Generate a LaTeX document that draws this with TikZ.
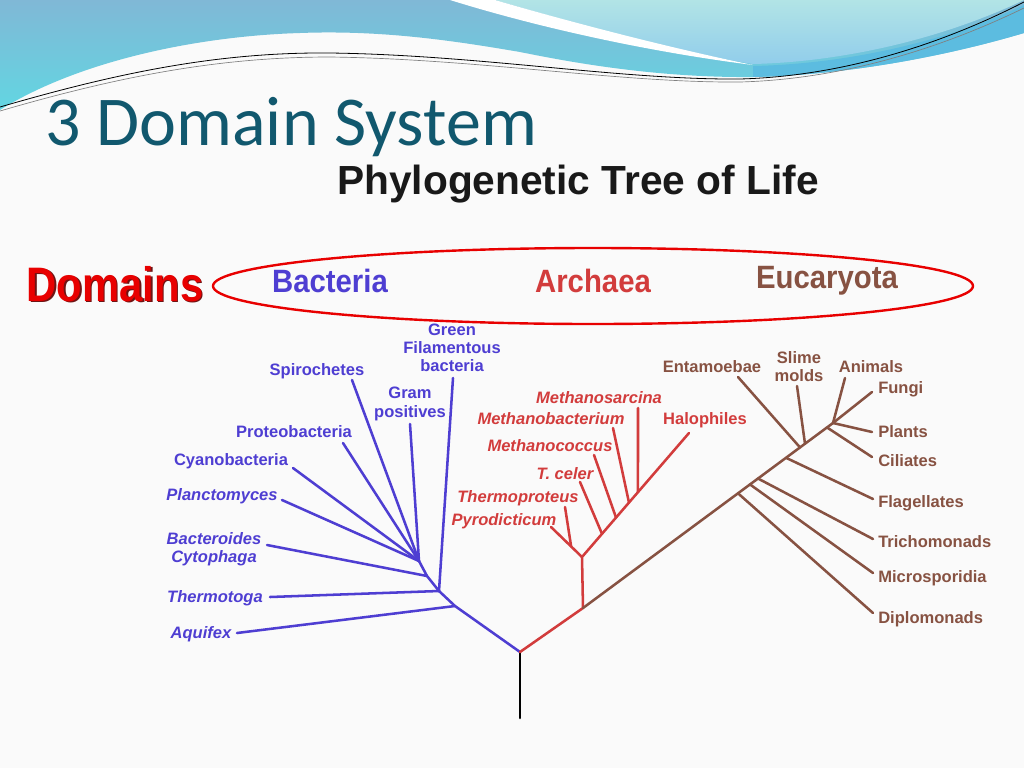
\documentclass[tikz,border=0pt]{standalone}
\usepackage{fontspec}
\setmainfont{Liberation Sans}
\newfontfamily\hdfont{Carlito}
\usepackage{graphicx}
\usetikzlibrary{calc}
\definecolor{bgc}{RGB}{250,250,250}
\definecolor{waveA}{RGB}{128,184,214}
\definecolor{waveB}{RGB}{98,214,226}
\definecolor{aquaA}{RGB}{178,228,230}
\definecolor{aquaB}{RGB}{145,205,235}
\definecolor{band}{RGB}{92,188,224}
\definecolor{thin}{RGB}{40,140,150}
\definecolor{hdc}{RGB}{17,88,110}
\definecolor{bac}{RGB}{78,62,210}
\definecolor{arc}{RGB}{210,60,60}
\definecolor{euk}{RGB}{135,82,66}
\definecolor{dred}{RGB}{232,0,0}
\definecolor{shd}{RGB}{110,20,20}
\begin{document}
\begin{tikzpicture}[x=0.75pt,y=-0.75pt,line cap=round,line join=round,
  bl/.style={draw=bac,line width=1.9pt},
  ar/.style={draw=arc,line width=1.9pt},
  eu/.style={draw=euk,line width=1.9pt},
  lab/.style={font=\bfseries\fontsize{12.4}{14}\selectfont,inner sep=0pt,text height=8.9pt,text depth=0pt},
  ilab/.style={lab,font=\bfseries\itshape\fontsize{12.4}{14}\selectfont},
  mlab/.style={font=\bfseries\fontsize{12.4}{13.6}\selectfont,inner sep=0pt,align=center},
  imlab/.style={font=\bfseries\itshape\fontsize{12.4}{13.6}\selectfont,inner sep=0pt,align=center},
  dom/.style={font=\bfseries\fontsize{22}{24}\selectfont,inner sep=0pt}]
\useasboundingbox (0,0) rectangle (1024,768);
\fill[bgc] (0,0) rectangle (1024,768);
% header waves
\shade[top color=waveA,bottom color=waveB] (0,0) -- (1024,0) -- (1024,33)
  .. controls (950,55) and (850,75) .. (753,77)
  .. controls (650,78) and (560,60) .. (520,52)
  .. controls (450,40) and (380,30) .. (300,33)
  .. controls (200,36) and (80,60) .. (0,110) -- cycle;
\fill[band] (753,66) .. controls (850,64) and (950,40) .. (1024,5) -- (1024,33)
  .. controls (950,55) and (850,75) .. (753,77) -- cycle;
\shade[top color=aquaA,bottom color=aquaB] (495,0) .. controls (580,25) and (680,52) .. (753,64)
  .. controls (840,62) and (940,40) .. (1024,0) -- cycle;
\fill[white] (450,0) .. controls (540,28) and (650,52) .. (753,65)
  .. controls (670,48) and (570,22) .. (495,0) -- cycle;
\draw[thin,line width=0.6pt] (0,107) .. controls (120,72) and (220,52) .. (330,53)
  .. controls (480,55) and (620,80) .. (740,79) .. controls (850,76) and (950,40) .. (1024,2);
\draw[gray,line width=0.5pt] (0,111) .. controls (120,76) and (220,57) .. (330,57)
  .. controls (480,59) and (620,83) .. (740,82) .. controls (850,79) and (950,44) .. (1024,8);
% titles
\node[anchor=base west,inner sep=0pt,text=hdc,font=\hdfont\fontsize{52.5}{56}\selectfont] (hd) at (45,145) {3 Domain System};
\node[inner sep=0pt,text=black!90,font=\bfseries\fontsize{30.5}{32}\selectfont] (tt) at (578,184) {Phylogenetic Tree of Life};
\node[inner sep=0pt,text=shd,font=\bfseries\fontsize{33}{36}\selectfont] at (116.5,285.5) {\scalebox{0.95}[1.1]{Domains}};
\node[inner sep=0pt,text=dred,font=\bfseries\fontsize{33}{36}\selectfont] (dm) at (115,284) {\scalebox{0.95}[1.1]{Domains}};
\draw[dred,line width=1.8pt] (593,286) ellipse [x radius=380,y radius=38];
\node[dom,text=bac] (nb) at (330,281) {\scalebox{1}[1.1]{Bacteria}};
\node[dom,text=arc] (na) at (593,281) {\scalebox{1}[1.1]{Archaea}};
\node[dom,text=euk] (ne) at (827,281) {\scalebox{1}[1.1]{Eucaryota}};
% tree coordinates
\coordinate (R0) at (520,718); \coordinate (R) at (520,652);
\coordinate (B1) at (455,606); \coordinate (B2) at (439,591);
\coordinate (B3) at (427,576); \coordinate (B4) at (419,561);
\coordinate (aqE) at (237,633); \coordinate (thE) at (270,597);
\coordinate (gfE) at (453,378); \coordinate (bcE) at (267,545);
\coordinate (plE) at (282,500); \coordinate (cyE) at (293,468);
\coordinate (prE) at (343,443); \coordinate (spE) at (352,380);
\coordinate (gpE) at (410,424);
\coordinate (A0) at (583,608); \coordinate (A1) at (582,557);
\coordinate (pyE) at (551,527); \coordinate (tpE) at (565,507);
\coordinate (haE) at (689,433);
\coordinate (tcE) at (580,482); \coordinate (mcE) at (594,455);
\coordinate (mbE) at (613,428); \coordinate (msE) at (638,408);
\coordinate (E9) at (833,423);
\coordinate (dpE) at (873,613); \coordinate (miE) at (873,573);
\coordinate (trE) at (873,539); \coordinate (flE) at (873,499);
\coordinate (enE) at (738,377); \coordinate (smE) at (797,386);
\coordinate (ciE) at (872,457); \coordinate (ptE) at (872,432);
\coordinate (fuE) at (872,392); \coordinate (anE) at (845,378);
% root
\draw[black,line width=1.9pt] (R0) -- (R);
% bacteria
\draw[bl] (R) -- (B1) -- (B2) -- (B3) -- (B4);
\draw[bl] (B1) -- (aqE);
\draw[bl] (B2) -- (thE);
\draw[bl] (B2) -- (gfE);
\draw[bl] (B3) -- (bcE);
\draw[bl] (B4) -- (plE);
\draw[bl] (B4) -- (cyE);
\draw[bl] (B4) -- (prE);
\draw[bl] (B4) -- (spE);
\draw[bl] (B4) -- (gpE);
% archaea
\draw[ar] (R) -- (A0) -- (A1) -- (haE);
\draw[ar] (A1) -- (pyE);
\draw[ar] ($(pyE)!0.65!(A1)$) -- (tpE);
\draw[ar] ($(A1)!0.187!(haE)$) -- (tcE);
\draw[ar] ($(A1)!0.318!(haE)$) -- (mcE);
\draw[ar] ($(A1)!0.439!(haE)$) -- (mbE);
\draw[ar] ($(A1)!0.523!(haE)$) -- (msE);
% eucarya
\draw[eu] (A0) -- (E9);
\draw[eu] ($(A0)!0.62!(E9)$) -- (dpE);
\draw[eu] ($(A0)!0.668!(E9)$) -- (miE);
\draw[eu] ($(A0)!0.70!(E9)$) -- (trE);
\draw[eu] ($(A0)!0.812!(E9)$) -- (flE);
\draw[eu] ($(A0)!0.868!(E9)$) -- (enE);
\draw[eu] ($(A0)!0.888!(E9)$) -- (smE);
\draw[eu] ($(A0)!0.976!(E9)$) -- (ciE);
\draw[eu] (E9) -- (ptE);
\draw[eu] (E9) -- (fuE);
\draw[eu] (E9) -- (anE);
% bacteria labels
\node[lab,text=bac] (sp) at (317,370) {Spirochetes};
\node[mlab,text=bac] (gf) at (452,348) {Green\\Filamentous\\bacteria};
\node[mlab,text=bac] (gp) at (410,404) {Gram\\positives};
\node[lab,text=bac] (pr) at (294,432) {Proteobacteria};
\node[lab,text=bac] (cy) at (231,460) {Cyanobacteria};
\node[ilab,text=bac] (pl) at (222,495) {Planctomyces};
\node[imlab,text=bac] (bc) at (214,549) {Bacteroides\\Cytophaga};
\node[ilab,text=bac] (th) at (215,597) {Thermotoga};
\node[ilab,text=bac] (aq) at (201,633) {Aquifex};
% archaea labels
\node[ilab,text=arc] (ms) at (599,398) {Methanosarcina};
\node[ilab,text=arc] (mb) at (551,419) {Methanobacterium};
\node[lab,text=arc] (ha) at (705,419) {Halophiles};
\node[ilab,text=arc] (mc) at (550,446) {Methanococcus};
\node[ilab,text=arc] (tc) at (565,474) {T. celer};
\node[ilab,text=arc] (tp) at (518,497) {Thermoproteus};
\node[ilab,text=arc] (py) at (504,520) {Pyrodicticum};
% eucarya labels
\node[lab,text=euk] (en) at (712,367) {Entamoebae};
\node[mlab,text=euk] (sm) at (799,367) {Slime\\molds};
\node[lab,text=euk] (an) at (871,367) {Animals};
\node[lab,text=euk,anchor=west] (fu) at (878,388) {Fungi};
\node[lab,text=euk,anchor=west] (pt) at (878,432) {Plants};
\node[lab,text=euk,anchor=west] (ci) at (878,461) {Ciliates};
\node[lab,text=euk,anchor=west] (fl) at (878,502) {Flagellates};
\node[lab,text=euk,anchor=west] (tr) at (878,542) {Trichomonads};
\node[lab,text=euk,anchor=west] (mi) at (878,577) {Microsporidia};
\node[lab,text=euk,anchor=west] (dp) at (878,618) {Diplomonads};
\end{tikzpicture}
\end{document}
